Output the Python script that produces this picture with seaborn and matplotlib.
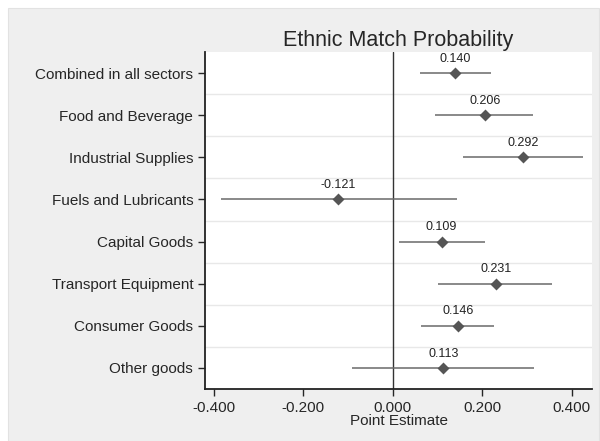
import matplotlib
matplotlib.use("Agg")
import matplotlib.pyplot as plt
import pandas as pd
import seaborn as sns

sectors = ["Combined in all sectors", "Food and Beverage", "Industrial Supplies",
           "Fuels and Lubricants", "Capital Goods", "Transport Equipment",
           "Consumer Goods", "Other goods"]
estimate = [0.140, 0.206, 0.292, -0.121, 0.109, 0.231, 0.146, 0.113]
ci_low = [0.061, 0.095, 0.156, -0.384, 0.013, 0.101, 0.063, -0.090]
ci_high = [0.219, 0.313, 0.426, 0.144, 0.205, 0.356, 0.227, 0.316]
xticks = [-0.4, -0.2, 0.0, 0.2, 0.4]

df = pd.DataFrame({"sector": sectors, "est": estimate, "lo": ci_low, "hi": ci_high})

sns.set_style("white")
plt.rcParams["font.family"] = ["Liberation Sans", "DejaVu Sans"]

fig = plt.figure(figsize=(6, 4.41), dpi=100)
fig.patch.set_facecolor("white")
bg = plt.Rectangle((8 / 600, 0), 591 / 600, 433 / 441,
                   transform=fig.transFigure, facecolor="#efefef",
                   edgecolor="#e2e2e2", lw=0.8, zorder=-10)
fig.patches.append(bg)
ax = fig.add_axes([205 / 600, 1 - 389 / 441, 387 / 600, 337 / 441])
ax.set_facecolor("white")

pos = range(len(df))
ax.hlines(list(pos), df["lo"], df["hi"], color="#6a6a6a", lw=1.1, zorder=2)
sns.pointplot(data=df, x="est", y="sector", order=sectors, linestyle="none",
              markers="D", color="#555555", markersize=3.6, errorbar=None,
              ax=ax, zorder=3)
for i, r in df.iterrows():
    ax.text(r["est"], i - 0.2, f"{r['est']:.3f}", ha="center", va="bottom",
            fontsize=9, color="#222222")

ax.axvline(0, color="#333333", lw=1, zorder=1)
for i in range(len(df) - 1):
    ax.axhline(i + 0.5, color="#e8e8e8", lw=1, zorder=0)

ax.set_xlim(-0.419, 0.445)
ax.set_ylim(len(df) - 0.5, -0.5)
ax.set_xticks(xticks)
ax.set_xticklabels([f"{t:.3f}" for t in xticks], fontsize=11)
ax.tick_params(axis="y", labelsize=11, length=5, width=1, direction="out", left=True)
ax.tick_params(axis="x", length=5, width=1, direction="out", bottom=True, pad=4)
for s in ["top", "right"]:
    ax.spines[s].set_visible(False)
for s in ["left", "bottom"]:
    ax.spines[s].set_color("#222222")
    ax.spines[s].set_linewidth(1.3)
ax.set_ylabel("")
ax.set_xlabel("Point Estimate", fontsize=11, labelpad=-1)
ax.set_title("Ethnic Match Probability", fontsize=15.5, pad=4)

fig.savefig("out.png", dpi=100, facecolor=fig.get_facecolor())
